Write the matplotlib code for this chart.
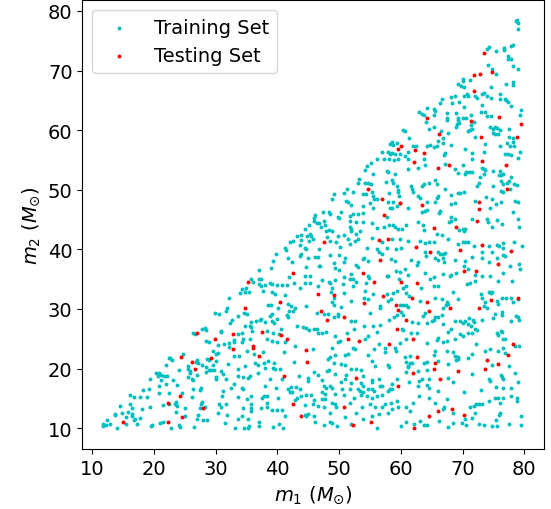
import matplotlib
matplotlib.use("Agg")
import matplotlib.pyplot as plt
import numpy as np

# (m1, m2) pairs, in solar masses
training_set = [
    # m2 below ~33, m1 < 33
    (32.1,31.8),(31.9,30.2),(31.6,29.7),(29.9,29.4),(30.6,29.1),(32.4,27.7),(32.6,28.2),(27.8,26.7),(28.3,26.8),(28.5,26.4),
    (30.9,26.3),(30.8,26.2),(26.3,26.0),(26.7,25.8),(28.4,24.6),(28.9,24.5),(31.4,24.2),(32.2,24.3),(32.9,24.8),(33.0,24.5),
    (30.3,23.9),(32.1,23.7),(29.5,23.0),(30.4,22.6),(30.1,22.4),(32.9,22.1),(24.7,22.5),(22.6,21.7),(22.9,21.5),(22.5,21.8),
    (28.6,21.6),(28.9,21.4),(30.0,21.3),(27.0,21.4),(26.8,21.1),(27.2,20.9),(25.6,20.5),(27.8,20.6),(28.5,20.2),(29.5,20.6),
    (22.0,20.6),(32.0,20.7),(24.0,19.7),(25.5,20.0),(25.9,19.6),(25.8,19.3),(28.4,19.4),(28.9,19.8),(29.3,19.7),(29.8,19.7),
    (20.4,19.3),(20.8,19.2),(21.1,19.0),(20.6,18.7),(21.7,18.7),(22.1,18.8),(30.9,19.6),(31.2,19.1),(27.0,18.9),(25.5,18.6),
    (26.1,18.3),(30.0,18.6),(30.1,18.3),(31.7,18.3),(19.3,18.2),(21.1,18.1),(23.1,18.1),(26.4,18.0),(21.9,17.4),(20.9,17.0),
    (23.7,17.2),(33.0,17.4),(32.5,16.8),(18.2,16.4),(19.2,16.6),(27.6,16.7),(27.4,16.4),(26.3,16.5),(22.5,15.9),(20.8,15.9),
    (24.6,15.9),(31.2,16.2),(31.0,15.4),(16.1,15.5),(16.8,15.3),(17.7,15.3),(18.8,15.3),(26.2,15.3),(22.5,14.0),(23.4,14.1),
    (23.6,14.4),(23.8,13.8),(21.4,13.9),(16.2,14.0),(16.5,13.4),(27.8,14.4),(27.6,14.0),(28.2,13.5),(27.4,13.3),(30.5,14.1),
    (31.7,14.1),(30.8,13.5),(25.0,13.4),(14.5,13.7),(19.4,13.5),(18.0,13.2),(14.9,12.6),(15.8,12.7),(13.7,12.2),(13.7,12.4),
    (16.4,12.3),(16.5,12.0),(16.9,11.6),(16.8,11.3),(17.7,11.7),(15.4,11.8),(23.5,12.7),(25.1,12.0),(27.1,12.2),(27.0,11.6),
    (30.4,12.5),(31.9,12.2),(27.9,11.3),(28.6,11.3),(12.4,11.4),(11.8,10.7),(11.7,10.4),(12.3,10.5),(12.9,10.7),(15.5,10.7),
    (17.3,10.7),(19.5,10.4),(19.7,10.6),(21.0,10.9),(21.4,11.1),(22.8,10.1),(24.0,10.5),(24.2,10.2),(26.5,10.2),(31.5,10.8),
    (14.0,10.0),(33.1,10.0),
    # m2 below ~33, 33 < m1 < 57.4
    (33.9,32.6),(34.7,32.9),(35.4,32.8),(37.7,33.0),(39.1,32.9),(39.6,32.5),(41.3,32.3),(38.5,30.6),(39.0,30.6),(34.6,29.4),
    (35.0,29.1),(33.6,28.8),(40.1,30.2),(41.8,30.8),(42.2,30.5),(42.8,30.2),(41.9,29.7),(42.6,29.7),(38.8,28.8),(39.2,29.1),
    (41.5,29.0),(41.8,28.6),(39.9,28.3),(39.5,27.7),(39.1,28.0),(35.8,27.8),(36.5,27.9),(37.2,28.2),(37.4,28.3),(38.0,27.8),
    (48.7,32.8),(49.2,31.9),(48.8,31.2),(49.1,30.6),(50.3,30.4),(50.8,32.6),(51.9,31.4),(47.6,29.1),(48.2,29.1),(49.1,28.7),
    (49.8,29.2),(49.9,28.8),(44.6,30.5),(46.4,29.4),(54.2,33.0),(54.1,31.8),(55.5,32.5),(54.7,31.6),(56.6,30.5),(56.7,30.1),
    (55.0,29.3),(52.0,27.9),(52.6,28.0),(54.1,27.2),(55.5,27.2),(56.7,27.3),(34.7,27.2),(35.5,27.2),(34.2,26.0),(33.6,25.8),
    (35.9,26.3),(35.8,26.9),(38.3,26.3),(39.3,26.0),(40.6,26.6),(40.3,25.8),(43.2,27.1),(44.2,26.9),(44.7,26.8),(45.1,26.5),
    (46.0,26.7),(46.4,26.7),(46.6,26.0),(47.3,25.9),(47.8,26.2),(49.3,25.5),(51.3,25.9),(52.4,26.7),(54.2,24.9),(54.7,25.5),
    (56.2,26.2),(34.5,24.9),(35.5,24.9),(35.0,23.0),(34.2,24.4),(33.8,22.1),(36.2,22.5),(37.7,22.7),(40.0,24.4),(41.2,24.4),
    (38.3,24.9),(39.1,24.7),(45.8,23.3),(42.8,23.8),(41.1,22.7),(48.9,23.5),(49.9,24.4),(50.2,24.7),(49.3,22.3),(50.9,22.3),
    (51.5,22.4),(52.2,23.5),(52.6,23.3),(55.7,23.3),(56.5,24.1),(54.7,22.3),(42.7,21.1),(38.5,21.3),(37.9,20.9),(39.5,21.0),
    (33.7,19.9),(34.7,20.5),(36.4,21.0),(36.9,20.6),(38.0,20.1),(39.3,20.1),(39.6,20.0),(40.5,19.9),(48.2,21.6),(48.5,21.9),
    (49.2,20.9),(50.3,20.7),(50.9,20.6),(52.0,20.0),(52.7,19.9),(53.5,19.7),(55.4,21.3),(55.8,20.5),(45.9,19.4),(40.7,18.2),
    (43.5,18.7),(46.5,18.9),(48.0,19.6),(48.4,19.7),(50.3,17.7),(51.1,18.9),(50.9,18.2),(53.9,18.7),(55.4,18.1),(55.3,17.8),
    (56.4,18.2),(33.7,18.7),(34.5,18.6),(35.3,18.5),(35.5,18.7),(36.9,19.3),(38.8,18.2),(44.9,18.4),(45.0,17.9),(47.3,18.1),
    (49.3,19.1),(52.0,17.5),(53.5,17.5),(53.9,17.1),(34.3,16.7),(34.5,16.5),(38.0,17.1),(39.8,16.7),(41.7,16.5),(42.2,16.9),
    (43.0,16.9),(43.7,16.5),(47.6,17.1),(47.9,16.8),(48.5,17.0),(48.9,16.8),(50.5,16.5),(51.7,16.5),(53.1,16.5),(53.4,16.3),
    (53.8,16.0),(54.7,16.5),(55.3,16.5),(55.7,16.2),(57.0,17.0),(56.6,17.1),(33.6,15.3),(35.1,14.9),(35.8,15.4),(37.9,15.4),
    (38.3,15.4),(37.5,15.1),(40.1,15.1),(42.0,16.0),(42.3,16.0),(43.1,15.1),(42.8,14.7),(43.9,15.4),(44.6,15.5),(45.5,15.5),
    (47.3,16.0),(47.7,15.7),(49.3,15.8),(47.7,14.9),(47.3,14.9),(48.8,14.3),(49.3,14.0),(49.5,13.6),(45.7,14.1),(45.9,14.7),
    (50.8,15.5),(52.4,15.0),(53.5,15.5),(54.5,15.4),(55.3,15.0),(56.2,15.4),(56.9,15.5),(34.5,13.4),(35.7,14.0),(35.7,13.4),
    (37.3,13.4),(38.3,14.3),(38.3,13.6),(44.5,13.9),(46.6,13.7),(47.6,13.6),(51.7,14.3),(53.7,13.5),(55.0,14.0),(55.8,13.6),
    (56.9,13.5),(34.3,12.1),(33.7,11.5),(35.2,11.6),(35.7,12.8),(39.1,13.0),(39.9,13.1),(40.7,13.0),(41.3,12.1),(44.4,12.2),
    (44.6,12.0),(45.0,12.3),(45.9,12.1),(46.1,11.1),(48.6,12.5),(50.9,11.8),(52.7,12.6),(53.9,11.5),(55.4,12.0),(56.5,12.3),
    (34.6,10.0),(35.4,10.4),(35.2,10.1),(37.1,11.1),(37.0,10.4),(39.3,10.2),(40.3,10.7),(40.9,10.1),(47.6,10.5),(48.5,11.1),
    (48.8,10.8),(49.6,10.4),(52.0,10.7),(56.2,10.0),
    # m2 below ~33, m1 > 57.4
    (57.7,32.5),(58.8,32.6),(59.3,33.0),(57.9,31.4),(58.4,31.6),(60.9,32.6),(61.3,32.1),(63.1,31.4),(63.9,29.3),(63.6,28.8),
    (59.9,30.6),(60.4,30.6),(60.8,30.6),(61.1,30.4),(60.1,29.5),(60.4,29.0),(59.3,29.0),(58.9,28.6),(58.1,28.2),(61.8,27.8),
    (62.8,27.7),(60.2,26.7),(60.4,26.5),(61.6,26.0),(62.6,26.0),(60.8,24.9),(59.9,24.3),(57.4,23.5),(59.0,23.5),(59.2,23.0),
    (57.4,22.8),(65.5,31.8),(66.6,31.6),(67.4,31.1),(67.7,30.8),(68.5,32.9),(69.2,31.6),(66.9,30.2),(67.3,30.6),(65.5,28.6),
    (66.1,28.7),(66.6,29.0),(65.0,28.0),(65.4,28.2),(64.3,27.6),(66.9,27.5),(68.8,28.0),(69.6,27.9),(70.0,27.7),(70.4,28.0),
    (71.0,28.5),(71.7,28.2),(71.9,27.8),(73.0,32.5),(73.2,31.8),(73.6,31.1),(74.2,32.8),(74.6,32.6),(74.8,32.9),(73.5,30.5),
    (73.9,30.1),(76.4,31.9),(77.1,31.9),(77.9,31.9),(79.0,31.6),(75.6,31.4),(75.7,30.8),(78.1,31.1),(76.4,29.5),(76.4,29.0),
    (75.2,29.2),(75.0,28.4),(78.6,28.8),(78.9,28.6),(79.2,28.1),(77.8,27.9),(73.1,28.1),(70.8,27.5),(71.4,27.2),(71.6,26.0),
    (70.9,25.9),(72.0,26.7),(72.3,26.5),(68.2,26.6),(67.7,26.2),(67.4,24.7),(66.9,24.5),(66.1,25.2),(65.8,24.8),(64.2,24.3),
    (68.7,24.9),(69.6,25.8),(70.0,25.5),(72.1,24.1),(75.5,25.9),(75.8,25.6),(76.4,26.2),(76.2,26.3),(76.5,24.9),(76.9,24.9),
    (78.5,23.8),(79.2,23.8),(76.6,23.4),(76.9,22.6),(75.8,23.0),(73.6,23.0),(74.4,23.3),(71.5,22.4),(70.8,21.7),(68.5,22.7),
    (68.8,22.1),(69.2,21.6),(69.0,21.4),(69.3,21.9),(67.4,23.0),(67.7,20.7),(65.5,23.0),(65.4,22.3),(66.1,21.3),(64.2,21.1),
    (63.8,21.0),(61.5,22.1),(60.7,21.9),(60.9,21.1),(61.5,21.0),(61.8,20.9),(61.2,20.5),(61.1,20.2),(60.9,19.4),(62.8,19.6),
    (64.2,19.8),(58.0,20.6),(58.1,20.2),(74.7,20.6),(77.5,20.5),(78.5,19.2),(76.2,18.9),(76.4,18.6),(76.6,18.3),(71.6,19.1),
    (67.7,18.5),(68.5,17.8),(64.5,18.2),(63.5,18.2),(62.9,17.9),(62.8,17.1),(64.3,17.2),(64.6,16.7),(66.1,16.3),(58.6,17.4),
    (59.4,18.2),(61.3,17.7),(58.2,16.5),(58.0,16.3),(58.5,16.5),(70.3,16.0),(73.0,16.4),(74.2,18.2),(74.4,17.9),(75.4,16.9),
    (76.6,16.7),(77.9,16.7),(78.9,17.8),(78.8,15.1),(78.8,14.6),(77.8,15.4),(76.6,15.1),(76.1,14.3),(75.8,15.0),(75.3,15.1),
    (74.2,14.6),(72.7,14.0),(73.1,14.0),(72.2,14.0),(71.9,13.7),(71.2,13.5),(67.4,14.9),(67.0,13.5),(66.9,13.2),(68.5,12.5),
    (70.4,11.5),(71.5,11.7),(72.0,12.5),(76.1,12.6),(75.9,12.2),(79.5,12.1),(75.4,11.4),(72.6,10.7),(73.5,10.5),(74.7,10.4),
    (75.5,10.4),(77.6,10.7),(79.5,10.6),(69.9,10.8),(70.6,10.5),(67.7,10.2),(68.5,10.8),(66.2,11.2),(63.8,10.5),(64.3,10.5),
    (63.1,11.2),(62.2,10.7),(60.8,11.0),(60.0,10.4),(61.5,12.9),(60.8,13.5),(59.6,13.5),(58.6,13.2),(58.0,12.6),(62.0,14.3),
    (62.9,15.4),(64.5,15.1),(65.5,14.2),(59.3,14.6),(58.4,14.3),(57.4,14.0),
    # m2 between 33 and 58.5, m1 < 55.8
    (55.2,54.5),(54.5,54.0),(54.2,53.3),(55.5,52.6),(53.3,51.8),(53.0,51.2),(54.2,51.05),(54.7,51.2),(55.2,50.9),(55.3,49.7),
    (51.2,50.1),(52.2,49.6),(50.8,49.4),(49.2,49.3),(48.8,48.4),(53.9,49.3),(54.3,49.3),(55.5,49.0),(55.7,48.5),(55.0,47.7),
    (53.9,47.3),(51.1,48.1),(51.5,47.9),(52.0,47.5),(55.5,46.9),(47.4,46.2),(48.4,46.2),(48.6,45.9),(50.3,46.2),(49.8,45.5),
    (50.0,45.2),(52.3,46.0),(53.0,46.0),(53.8,46.1),(46.1,45.7),(45.9,45.2),(46.4,44.5),(46.7,44.4),(46.0,44.8),(47.6,44.8),
    (47.7,44.06),(51.7,45.6),(51.8,44.8),(52.8,44.6),(53.8,44.6),(55.4,44.4),(45.1,44.06),(44.4,43.4),(43.9,42.4),(47.0,43.7),
    (48.3,43.3),(48.8,43.1),(51.7,43.8),(51.9,43.4),(52.0,43.05),(53.4,43.05),(47.8,43.0),(45.3,42.5),(44.8,42.3),(45.5,42.3),
    (49.8,42.3),(50.8,42.4),(52.7,42.5),(53.0,41.7),(55.3,41.9),(43.2,42.3),(43.8,41.6),(42.0,41.3),(42.6,41.4),(45.2,41.4),
    (45.8,41.7),(48.0,42.05),(48.5,41.4),(49.5,41.3),(51.4,41.7),(51.8,40.9),(52.5,41.4),(43.7,40.7),(44.5,40.3),(44.7,40.0),
    (41.2,40.2),(41.4,39.9),(46.7,40.0),(50.1,40.4),(54.5,40.3),(39.8,39.2),(43.6,38.9),(43.9,39.2),(44.9,38.6),(46.1,38.7),
    (46.5,38.7),(48.5,39.1),(50.0,39.0),(50.9,38.6),(53.8,38.4),(54.1,38.5),(41.8,38.5),(42.4,37.8),(39.3,38.1),(49.2,37.7),
    (50.8,37.8),(54.7,38.0),(46.7,37.2),(46.9,37.2),(44.6,37.1),(39.0,36.85),(49.3,36.85),(50.0,36.6),(52.7,37.4),(53.0,37.1),
    (36.96,36.5),(41.9,35.3),(44.5,35.6),(45.3,35.6),(47.2,34.9),(49.3,34.8),(50.8,35.4),(52.0,35.9),(52.3,35.1),(51.8,35.1),
    (54.6,35.6),(54.8,35.2),(35.8,35.1),(37.1,35.0),(37.4,35.1),(36.1,34.5),(36.96,34.2),(37.4,33.9),(34.3,33.4),(34.9,33.6),
    (38.0,34.1),(38.8,34.4),(39.1,34.2),(39.9,34.1),(40.7,34.1),(41.6,34.0),(42.7,34.3),(43.6,33.6),(44.5,34.3),(45.3,34.3),
    (46.6,33.9),(48.3,34.5),(48.6,34.3),(48.8,33.6),(50.6,34.2),(52.2,33.8),(52.8,34.6),(54.3,34.4),
    # m2 between 33 and 58.5, m1 > 55.8
    (58.5,58.0),(58.2,57.7),(58.8,57.5),(59.3,57.8),(56.9,56.4),(57.9,56.3),(58.2,56.0),(58.6,56.1),(59.1,56.0),(59.9,56.0),
    (56.2,55.1),(57.2,55.1),(58.1,55.2),(58.9,55.0),(59.6,55.1),(61.1,56.3),(60.6,55.6),(61.2,55.1),(62.0,57.4),(62.4,57.3),
    (64.2,57.4),(64.7,57.5),(65.4,57.1),(66.1,58.2),(66.9,57.8),(65.8,57.3),(67.2,56.1),(67.0,55.8),(68.2,57.5),(63.8,55.1),
    (63.9,54.1),(67.2,54.3),(62.8,53.6),(61.2,53.5),(68.8,53.5),(70.4,56.8),(71.5,56.1),(71.5,55.1),(70.1,54.1),(70.5,53.0),
    (71.0,52.9),(71.5,53.0),(73.4,56.3),(73.6,57.7),(73.1,53.7),(73.4,53.5),(73.6,53.3),(75.0,53.2),(76.1,53.2),(76.5,52.7),
    (76.1,57.4),(77.2,57.8),(77.7,57.3),(78.1,58.0),(78.4,57.4),(76.9,56.0),(77.4,56.0),(77.9,55.8),(79.0,55.4),(79.3,56.3),
    (58.0,52.9),(57.7,53.2),(59.1,52.7),(58.6,51.6),(58.8,51.2),(57.6,51.3),(59.3,50.7),(59.6,50.0),(59.6,49.7),(58.1,49.4),
    (61.6,50.7),(61.8,50.1),(61.9,49.7),(63.4,50.7),(63.8,50.9),(64.6,51.05),(65.5,51.7),(65.8,50.9),(67.2,50.2),(69.2,52.8),
    (70.4,52.6),(69.2,49.4),(70.3,49.7),(72.6,51.2),(72.3,50.7),(72.8,52.2),(73.4,52.6),(75.0,50.7),(75.9,52.4),(76.3,52.4),
    (76.2,51.5),(76.6,50.9),(77.2,51.1),(77.5,51.5),(77.9,52.06),(78.4,50.9),(78.8,50.8),(76.2,49.8),(76.5,49.7),(77.7,50.2),
    (56.2,48.5),(58.0,48.0),(58.8,47.9),(59.9,47.8),(59.7,49.0),(58.2,47.0),(58.6,47.0),(59.3,47.3),(61.2,46.9),(62.8,48.9),
    (63.1,48.7),(64.3,47.9),(65.5,48.0),(65.8,48.7),(66.1,49.0),(66.3,46.5),(66.2,46.1),(63.9,46.5),(63.4,46.3),(64.3,46.6),
    (68.2,49.1),(68.1,47.6),(68.8,47.8),(69.6,49.5),(72.0,48.1),(73.8,48.8),(74.5,46.9),(74.8,48.5),(75.4,47.6),(76.3,47.9),
    (78.5,48.1),(78.9,47.9),(78.1,46.2),(57.7,45.5),(56.2,43.5),(57.2,43.7),(58.1,44.06),(58.8,44.06),(59.1,43.8),(59.5,43.4),
    (60.2,43.4),(60.9,44.06),(62.8,44.6),(63.6,44.06),(63.8,43.3),(65.8,42.5),(66.6,42.4),(68.2,45.4),(68.7,45.1),(68.1,44.8),
    (67.8,44.6),(70.0,43.4),(70.4,43.4),(70.3,43.1),(69.4,43.3),(71.5,45.1),(73.9,45.1),(74.1,44.6),(75.5,45.0),(74.8,43.7),
    (76.4,44.2),(78.9,45.1),(79.2,43.8),(58.6,41.7),(59.9,41.8),(57.0,41.2),(56.2,40.0),(56.4,39.6),(57.7,40.3),(59.2,40.0),
    (60.0,40.2),(61.2,41.4),(63.1,41.4),(63.9,41.0),(64.6,41.2),(65.3,41.2),(63.9,39.6),(64.1,38.9),(66.0,39.5),(66.3,39.2),
    (66.8,39.2),(67.2,39.4),(67.6,41.7),(69.2,40.9),(70.0,41.3),(70.4,41.2),(70.9,41.2),(71.9,40.6),(73.2,39.5),(74.2,40.6),
    (74.7,39.6),(75.5,40.7),(75.9,40.6),(76.5,41.0),(76.6,40.3),(78.4,41.2),(79.6,40.6),(56.9,39.2),(58.4,38.4),(59.1,38.1),
    (61.6,38.2),(62.8,37.9),(62.6,37.3),(65.6,38.5),(66.1,38.2),(66.9,38.5),(67.0,37.8),(68.7,38.2),(70.4,38.1),(70.3,37.2),
    (71.5,38.8),(73.1,38.5),(74.3,37.8),(75.5,38.6),(76.5,39.0),(76.8,38.9),(77.7,37.2),(79.2,37.5),(79.3,36.7),(59.2,36.4),
    (59.9,36.2),(60.6,36.7),(57.7,35.6),(58.0,35.5),(59.7,35.1),(61.2,35.7),(63.9,36.0),(64.7,35.1),(65.3,35.3),(66.9,35.9),
    (68.2,35.7),(67.9,35.6),(69.0,36.1),(70.9,36.7),(72.0,35.7),(73.1,35.6),(74.5,35.6),(76.6,36.1),(78.0,34.7),(75.8,34.7),
    (70.7,34.2),(71.2,34.3),(72.0,34.7),(65.3,33.9),(66.0,33.9),(60.4,33.6),(60.9,33.9),(63.2,33.6),
    # m2 above 58.5
    (78.6,78.3),(78.8,78.5),(79.0,77.9),(79.0,77.0),(73.9,73.6),(74.3,74.0),(75.4,73.3),(76.7,73.8),(76.7,73.5),(77.9,74.1),
    (78.2,74.3),(77.3,72.5),(77.3,71.9),(77.9,72.0),(74.1,71.0),(74.7,70.2),(75.4,69.5),(71.2,68.4),(70.0,68.6),(70.0,68.3),
    (69.2,67.7),(69.8,67.4),(70.3,67.2),(77.0,67.8),(78.2,68.0),(78.1,67.5),(79.0,70.2),(78.2,70.8),(74.6,67.2),(70.7,66.0),
    (70.2,65.7),(70.9,65.8),(72.0,65.8),(72.4,65.4),(73.1,66.1),(73.4,66.2),(73.9,65.7),(74.6,65.4),(68.1,65.6),(68.7,65.7),
    (66.6,65.3),(76.1,66.0),(76.1,65.2),(76.9,65.3),(77.0,65.1),(77.3,64.8),(69.5,64.8),(68.3,64.6),(66.3,64.5),(73.1,64.3),
    (77.8,64.1),(64.2,63.8),(65.4,63.6),(65.5,63.2),(70.3,63.9),(63.0,63.0),(63.4,62.7),(63.8,62.6),(65.4,62.6),(67.5,62.9),
    (68.9,62.9),(71.4,62.6),(73.0,63.1),(73.7,63.1),(73.9,62.4),(74.6,62.3),(79.5,63.3),(79.3,62.5),(64.0,61.4),(67.5,62.1),
    (67.5,61.7),(69.3,62.1),(69.2,61.7),(70.0,62.1),(70.6,62.1),(71.9,61.4),(69.1,61.0),(69.4,61.2),(71.3,60.8),(68.9,60.5),
    (65.3,60.5),(64.5,60.2),(66.5,59.8),(67.7,59.6),(70.9,59.9),(71.2,60.1),(71.6,60.2),(74.5,60.5),(75.0,60.2),(75.3,60.5),
    (75.5,60.3),(76.1,60.1),(77.6,60.2),(75.0,59.6),(75.3,59.3),(75.8,59.4),(72.0,58.9),(66.8,58.6),(77.5,58.9),(78.2,58.6),
    (60.4,60.0),(60.6,59.9),(61.4,58.6),
]

testing_set = [
    (26.9,26.0),(32.8,25.8),(29.9,24.9),(32.8,23.2),(24.4,21.9),(29.3,21.7),(26.1,21.1),(26.6,20.0),(24.3,15.4),(22.3,14.3),
    (27.9,13.3),(24.6,11.8),(15.0,11.0),(22.2,11.1),
    (34.7,30.2),(40.5,31.1),(46.6,32.5),(49.1,32.4),(47.1,29.7),(48.1,28.1),(50.8,28.6),(54.1,31.0),(37.5,26.2),(40.6,25.7),
    (41.6,25.0),(51.4,25.0),(53.3,24.7),(36.0,23.8),(36.0,23.4),(37.1,22.1),(44.6,23.1),(44.8,21.1),(41.0,18.8),(52.7,18.4),
    (42.5,14.0),(50.8,13.6),(43.9,12.0),(52.2,10.5),(55.1,11.0),(57.1,32.1),
    (61.8,31.8),(64.2,31.2),(64.5,29.7),(59.2,30.6),(59.5,29.9),(60.9,28.1),(59.4,26.7),(62.0,25.0),(58.1,24.1),(67.9,30.1),
    (74.6,31.5),(72.7,30.1),(78.9,31.9),(78.2,24.1),(77.3,22.3),(65.5,21.0),(65.3,19.9),(62.6,21.9),(62.0,19.2),(73.9,21.4),
    (73.6,19.9),(75.8,20.7),(69.2,19.6),(66.3,18.2),(59.6,17.1),(66.0,12.8),(68.3,13.2),(70.2,12.2),(64.5,12.1),(62.1,10.0),
    (54.7,50.1),(47.6,41.2),(42.6,36.0),(53.8,36.0),(55.7,34.5),(35.3,34.5),
    (59.5,56.9),(60.1,57.3),(62.3,56.7),(63.8,56.1),(62.2,54.7),(66.1,53.7),(67.8,54.2),(73.2,54.9),(77.0,54.2),(77.2,50.1),
    (56.9,48.4),(59.9,47.7),(63.5,47.4),(72.7,48.0),(72.7,46.7),(57.2,45.7),(65.3,43.5),(68.9,43.7),(72.4,44.7),(56.4,41.5),
    (57.9,41.8),(62.5,40.4),(64.7,39.5),(69.6,39.9),(73.1,40.8),(77.9,39.7),(56.6,38.2),(75.7,37.5),(70.3,36.4),(72.2,36.3),
    (60.1,34.5),(62.6,34.4),
    (73.5,72.9),(74.8,69.8),(72.9,69.5),(71.9,69.2),(71.9,66.6),(75.9,62.2),(64.3,62.0),(71.3,61.6),(66.2,59.4),(79.4,61.0),
    (78.8,58.8),(73.0,58.8),
]

train_m1 = np.array([p[0] for p in training_set])
train_m2 = np.array([p[1] for p in training_set])
test_m1 = np.array([p[0] for p in testing_set])
test_m2 = np.array([p[1] for p in testing_set])

plt.rcParams['font.family'] = ['DejaVu Sans']
plt.rcParams['mathtext.fontset'] = 'dejavusans'

fig = plt.figure(figsize=(5.51, 5.10), dpi=100)
ax = fig.add_axes([0.1494, 0.1176, 0.838, 0.880])

ax.scatter(train_m1, train_m2, s=8, c='c', linewidths=0, label='Training Set')
ax.scatter(test_m1, test_m2, s=8, c='r', linewidths=0, label='Testing Set')

ax.set_xlim(8.4, 83.2)
ax.set_ylim(6.5, 81.8)
ax.set_xticks([10, 20, 30, 40, 50, 60, 70, 80])
ax.set_yticks([10, 20, 30, 40, 50, 60, 70, 80])
ax.tick_params(labelsize=14)
ax.set_xlabel(r'$m_1\ (M_{\odot})$', fontsize=14)
ax.set_ylabel(r'$m_2\ (M_{\odot})$', fontsize=14)
ax.legend(loc='upper left', fontsize=14)

fig.savefig('out.png', dpi=100)
